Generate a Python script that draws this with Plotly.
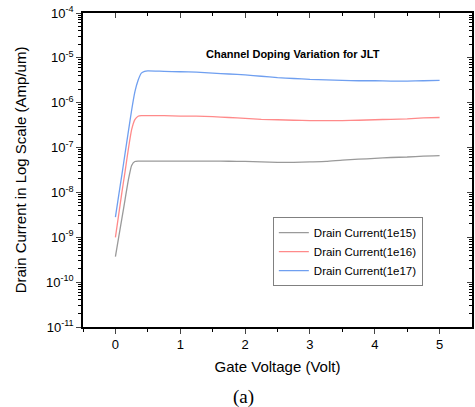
import plotly.graph_objects as go

gate_v = [0, 0.05, 0.1, 0.15, 0.2, 0.25, 0.3, 0.35, 0.4, 0.45, 0.5, 0.75, 1.0, 1.25, 1.5,
          1.75, 2.0, 2.25, 2.5, 2.75, 3.0, 3.25, 3.5, 3.75, 4.0, 4.25, 4.5, 4.75, 5.0]

current_1e15 = [3.7e-10, 1.0e-9, 2.63e-9, 7.1e-9, 1.9e-8, 4.0e-8, 4.9e-8, 5.0e-8, 5.0e-8, 5.0e-8,
                5.0e-8, 5.0e-8, 5.0e-8, 5.0e-8, 5.0e-8, 4.95e-8, 4.9e-8, 4.8e-8, 4.68e-8, 4.68e-8,
                4.79e-8, 4.9e-8, 5.25e-8, 5.5e-8, 5.75e-8, 6.0e-8, 6.17e-8, 6.46e-8, 6.6e-8]

current_1e16 = [1.0e-9, 3.16e-9, 1.0e-8, 3.0e-8, 9.3e-8, 2.5e-7, 4.2e-7, 5.0e-7, 5.13e-7, 5.13e-7,
                5.13e-7, 5.13e-7, 5.0e-7, 5.0e-7, 4.9e-7, 4.68e-7, 4.47e-7, 4.27e-7, 4.17e-7, 4.07e-7,
                3.98e-7, 3.98e-7, 3.98e-7, 4.07e-7, 4.17e-7, 4.27e-7, 4.37e-7, 4.57e-7, 4.68e-7]

current_1e17 = [2.82e-9, 8.5e-9, 2.5e-8, 7.6e-8, 2.3e-7, 6.8e-7, 1.74e-6, 3.16e-6, 4.57e-6, 5.0e-6,
                5.13e-6, 5.0e-6, 4.9e-6, 4.79e-6, 4.57e-6, 4.37e-6, 4.17e-6, 3.89e-6, 3.63e-6, 3.47e-6,
                3.31e-6, 3.24e-6, 3.16e-6, 3.09e-6, 3.09e-6, 3.02e-6, 3.02e-6, 3.09e-6, 3.16e-6]

series_names = ["Drain Current(1e15)", "Drain Current(1e16)", "Drain Current(1e17)"]
series_colors = ["#9a9a9a", "#ff8a8a", "#6f9ff0"]

x_ticks = [0, 1, 2, 3, 4, 5]
x_minor = [-0.5, 0.5, 1.5, 2.5, 3.5, 4.5]
y_exponents = [-11, -10, -9, -8, -7, -6, -5, -4]
y_ticks = [10.0 ** e for e in y_exponents]
y_ticktext = ["10<sup>%d</sup>" % e for e in y_exponents]
y_minor = [m * 10.0 ** e for e in y_exponents[:-1] for m in range(2, 10)]

fig = go.Figure()
for name, ys, col in zip(series_names, [current_1e15, current_1e16, current_1e17], series_colors):
    fig.add_trace(go.Scatter(x=gate_v, y=ys, mode="lines", name=name,
                             line=dict(color=col, width=1.3, shape="spline", smoothing=0.5)))

# helper trace to realise the mirrored (top/right) axes
fig.add_trace(go.Scatter(x=[None], y=[None], xaxis="x2", yaxis="y2", showlegend=False,
                         hoverinfo="skip"))

font_family = "Liberation Sans, Arial, sans-serif"

fig.update_layout(
    width=475, height=407,
    margin=dict(l=83, r=3, t=13, b=80),
    paper_bgcolor="white", plot_bgcolor="white",
    font=dict(family=font_family, color="black", size=13),
    xaxis=dict(range=[-0.5, 5.5], tickmode="array", tickvals=x_ticks, ticks="outside", ticklen=5,
               tickwidth=1.3, showline=True, linecolor="black", linewidth=1.5, showgrid=False,
               zeroline=False,
               minor=dict(ticks="outside", ticklen=3, tickmode="array", tickvals=x_minor,
                          showgrid=False, tickcolor="black", tickwidth=1),
               title=dict(text="Gate Voltage (Volt)", font=dict(size=15), standoff=10),
               tickfont=dict(size=13)),
    yaxis=dict(type="log", range=[-11, -4], tickmode="array", tickvals=y_ticks, ticktext=y_ticktext,
               ticks="outside", ticklen=5, tickwidth=1.3,
               showline=True, linecolor="black", linewidth=1.5, showgrid=False, zeroline=False,
               minor=dict(ticks="outside", ticklen=3, tickmode="array", tickvals=y_minor,
                          showgrid=False, tickcolor="black", tickwidth=1),
               title=dict(text="Drain Current in Log Scale (Amp/um)", font=dict(size=15), standoff=16),
               tickfont=dict(size=13)),
    xaxis2=dict(overlaying="x", side="top", range=[-0.5, 5.5], tickmode="array", tickvals=x_ticks,
                ticks="inside", ticklen=5, tickwidth=1.3, showticklabels=False, showline=True,
                linecolor="black", linewidth=1.5, showgrid=False, zeroline=False,
                minor=dict(ticks="inside", ticklen=3, tickmode="array", tickvals=x_minor,
                           showgrid=False, tickcolor="black", tickwidth=1)),
    yaxis2=dict(overlaying="y", side="right", type="log", range=[-11, -4], tickmode="array",
                tickvals=y_ticks, ticks="inside", ticklen=5, tickwidth=1.3, showticklabels=False,
                showline=True, linecolor="black", linewidth=1.5, showgrid=False, zeroline=False,
                minor=dict(ticks="inside", ticklen=3, tickmode="array", tickvals=y_minor,
                           showgrid=False, tickcolor="black", tickwidth=1)),
    legend=dict(x=0.488, y=0.35, xanchor="left", yanchor="top", bgcolor="white",
                bordercolor="#808080", borderwidth=1, font=dict(size=11.5, family=font_family),
                itemwidth=30, tracegroupgap=0),
    showlegend=True,
)

fig.add_annotation(text="<b>Channel Doping Variation for JLT</b>", xref="paper", yref="paper",
                   x=(293 - 83) / 389, y=(327 - 46) / 314, showarrow=False,
                   font=dict(size=11, family=font_family))
fig.add_annotation(text="(a)", xref="paper", yref="paper", x=(243 - 83) / 389, y=-(397 - 327) / 314,
                   yanchor="middle", showarrow=False,
                   font=dict(size=19, family="Liberation Serif, Times New Roman, serif"))

fig.write_html("out.html")
